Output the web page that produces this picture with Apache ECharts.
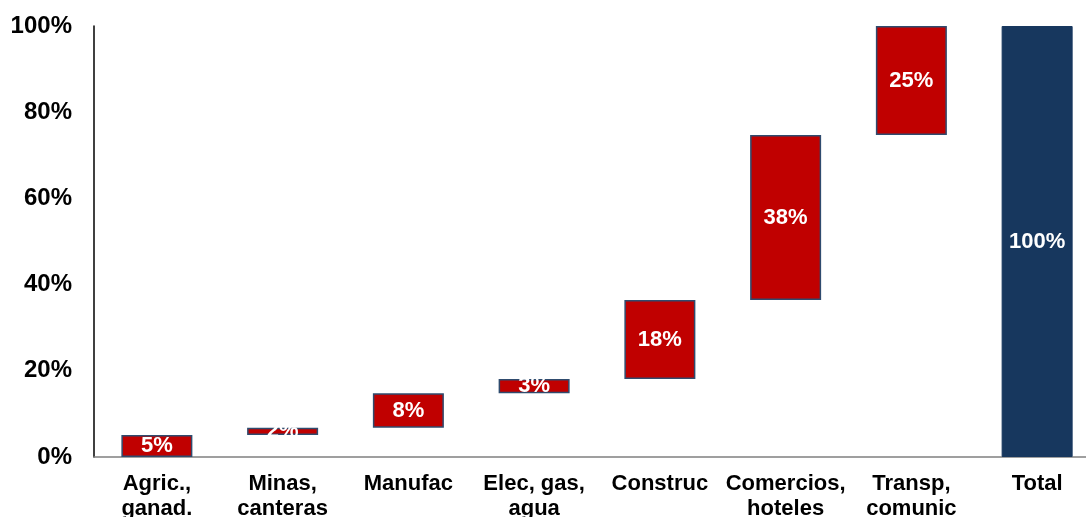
<!DOCTYPE html>
<html>
<head>
<meta charset="utf-8">
<script src="https://cdn.jsdelivr.net/npm/echarts@6/dist/echarts.min.js"></script>
<style>html,body{margin:0;padding:0;background:#fff;overflow:hidden;width:1086px;height:517px}#c{width:1100px;height:517px}</style>
</head>
<body>
<div id="c"></div>
<script>
const categories = ["Agric.,\nganad.", "Minas,\ncanteras", "Manufac", "Elec, gas,\nagua", "Construc", "Comercios,\nhoteles", "Transp,\ncomunic", "Total"];
const values = [5.1, 1.7, 8.0, 3.3, 18.3, 38.3, 25.3];
const totalValue = 100;
const yTicks = [0, 20, 40, 60, 80, 100];

// build waterfall offsets from the values
const base = [];
let run = 0;
values.forEach(v => { base.push(run); run += v; });
base.push(0);
const barData = values.map(v => ({ value: v, itemStyle: { color: '#c00000', borderColor: '#2f4b6e', borderWidth: 1.5 } }));
barData.push({ value: totalValue, itemStyle: { color: '#17375e', borderColor: '#17375e', borderWidth: 1 } });

const chart = echarts.init(document.getElementById('c'), null, { renderer: 'canvas' });
chart.setOption({
  animation: false,
  grid: { left: 94, top: 26, right: 0, bottom: 60, containLabel: false, outerBoundsMode: 'none' },
  xAxis: {
    type: 'category',
    data: categories,
    axisLine: { lineStyle: { color: '#808080', width: 1.5 } },
    axisTick: { show: false },
    axisLabel: {
      interval: 0, margin: 14, color: '#000', fontWeight: 'bold', fontSize: 22,
      fontFamily: 'Liberation Sans, Arial, sans-serif', lineHeight: 25
    }
  },
  yAxis: {
    type: 'value', min: 0, max: 100, interval: 20,
    axisLine: { show: true, lineStyle: { color: '#000', width: 1.5 } },
    axisTick: { show: false },
    splitLine: { show: false },
    axisLabel: {
      margin: 22, color: '#000', fontWeight: 'bold', fontSize: 24,
      fontFamily: 'Liberation Sans, Arial, sans-serif',
      formatter: v => yTicks.includes(v) ? v + '%' : ''
    }
  },
  series: [
    { type: 'bar', stack: 'w', data: base, barWidth: 71, itemStyle: { color: 'transparent' }, silent: true },
    {
      type: 'bar', stack: 'w', data: barData, barWidth: 71,
      label: {
        show: true, position: 'inside', color: '#fff', fontWeight: 'bold', fontSize: 22,
        fontFamily: 'Liberation Sans, Arial, sans-serif',
        formatter: p => Math.round(p.value) + '%'
      }
    }
  ]
});
</script>
</body>
</html>
